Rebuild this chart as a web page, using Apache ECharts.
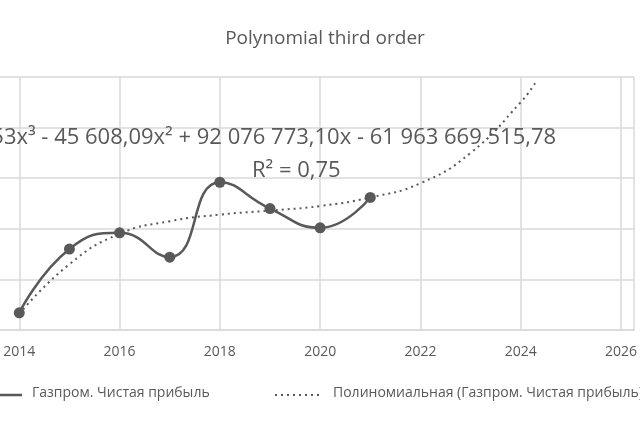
<!DOCTYPE html><html><head><meta charset="utf-8"><script src="https://cdn.jsdelivr.net/npm/echarts@6/dist/echarts.min.js"></script>
<style>body{margin:0;overflow:hidden}#c{width:721px;height:427px;margin-left:-81px}</style></head><body><div id="c"></div><script>
const years=[2014,2015,2016,2017,2018,2019,2020,2021];
const profit=[0.34,1.6,1.92,1.44,2.92,2.4,2.02,2.62];
const trendYears=[2014,2015,2016,2017,2018,2019,2020,2021,2022,2023,2024,2024.3];
const trendVals=[0.32,1.3,1.9,2.15,2.28,2.36,2.45,2.62,2.9,3.5,4.5,4.9];
const c=echarts.init(document.getElementById('c'));
const col='#595959';
const O=81;
c.setOption({
 animation:false,
 title:{text:'Polynomial third order',left:320+O,textAlign:'center',top:24,textStyle:{fontFamily:'Open Sans',fontWeight:'normal',fontSize:19,color:col}},
 grid:{left:0,right:0,top:77,bottom:97,containLabel:false},
 xAxis:{type:'value',min:2012,max:2026.26,interval:2,axisLine:{show:true,lineStyle:{color:'#d9d9d9',width:1.5}},axisTick:{show:false},
  splitLine:{show:true,lineStyle:{color:'#d9d9d9',width:1.5}},
  axisLabel:{color:col,fontSize:14,fontFamily:'Open Sans',margin:15,showMaxLabel:false,showMinLabel:false,formatter:v=>String(Math.round(v))}},
 yAxis:{type:'value',min:0,max:5,interval:1,axisLabel:{show:false},axisLine:{show:false},axisTick:{show:false},splitLine:{lineStyle:{color:'#d9d9d9',width:1.5}}},
 series:[
  {name:'Полиномиальная (Газпром. Чистая прибыль)',type:'line',smooth:true,symbol:'none',data:trendYears.map((y,i)=>[y,trendVals[i]]),lineStyle:{color:col,width:2,type:[2,4]},z:2},
  {name:'Газпром. Чистая прибыль',type:'line',smooth:0.5,symbol:'circle',symbolSize:11,data:years.map((y,i)=>[y,profit[i]]),lineStyle:{color:col,width:2.5},itemStyle:{color:col},z:3}
 ],
 graphic:[
  {type:'text',left:O-62,top:127,style:{text:'y = 1,53x³ - 45 608,09x² + 92 076 773,10x - 61 963 669 515,78',font:'22px "Open Sans"',fill:col},z:10},
  {type:'text',left:O+252,top:160,style:{text:'R² = 0,75',font:'22px "Open Sans"',fill:col},z:10},
  {type:'line',shape:{x1:O-5,y1:395,x2:O+22,y2:395},style:{stroke:col,lineWidth:2.5}},
  {type:'text',left:O+32,top:386,style:{text:'Газпром. Чистая прибыль',font:'14px "Open Sans"',fill:col}},
  {type:'line',shape:{x1:O+275,y1:395,x2:O+322,y2:395},style:{stroke:col,lineWidth:2,lineDash:[2,4]}},
  {type:'text',left:O+333,top:386,style:{text:'Полиномиальная (Газпром. Чистая прибыль)',font:'14px "Open Sans"',fill:col}}
 ]
});
</script></body></html>
